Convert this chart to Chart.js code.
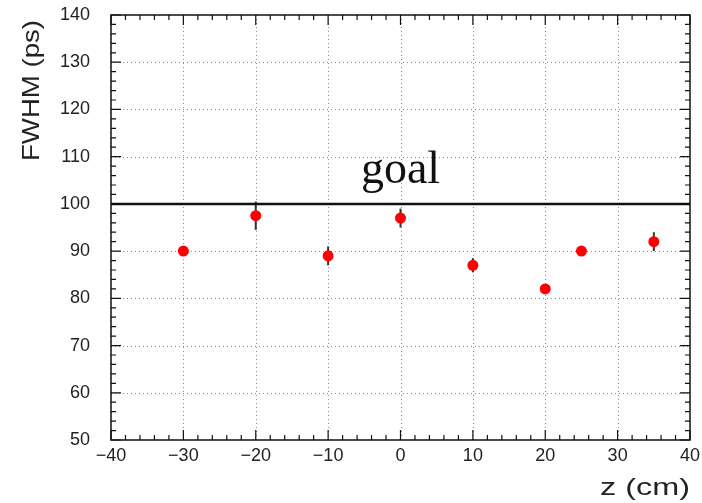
<!DOCTYPE html>
<html>
<head>
<meta charset="utf-8">
<script src="https://cdn.jsdelivr.net/npm/chart.js@4.4.0/dist/chart.umd.min.js"></script>
<style>
  html, body { margin: 0; padding: 0; background: #fff; }
  #wrap { width: 702px; height: 503px; }
</style>
</head>
<body>
<div id="wrap"><canvas id="fwhm" width="702" height="503"></canvas></div>
<script>
// measured FWHM along the bar
const zPos   = [-30, -20, -10, 0, 10, 20, 25, 35];
const fwhm   = [90, 97.5, 89, 97, 87, 82, 90, 92];
const fwhmEr = [1, 3, 2, 2, 1.5, 1, 1, 2];

const goalValue = 100;
const goalText = 'goal';

const xTicks = [-40, -30, -20, -10, 0, 10, 20, 30, 40];
const yTicks = [50, 60, 70, 80, 90, 100, 110, 120, 130, 140];

const points = zPos.map((z, i) => ({ x: z, y: fwhm[i], err: fwhmEr[i] }));

// ROOT-ish frame: dotted grid, ticks on all four sides, error bars, labels
const rootStyle = {
    id: 'rootStyle',
    beforeDatasetsDraw(chart) {
        const { ctx, chartArea: a, scales: { x, y } } = chart;
        ctx.save();
        ctx.strokeStyle = '#8a8a8a';
        ctx.lineWidth = 1;
        ctx.setLineDash([1, 3]);
        xTicks.slice(1, -1).forEach(v => {
            const px = Math.round(x.getPixelForValue(v)) + 0.5;
            ctx.beginPath(); ctx.moveTo(px, a.top); ctx.lineTo(px, a.bottom); ctx.stroke();
        });
        yTicks.slice(1, -1).forEach(v => {
            const py = Math.round(y.getPixelForValue(v)) + 0.5;
            ctx.beginPath(); ctx.moveTo(a.left, py); ctx.lineTo(a.right, py); ctx.stroke();
        });
        ctx.setLineDash([]);

        // error bars
        ctx.strokeStyle = '#333';
        ctx.lineWidth = 2;
        points.forEach(p => {
            const px = x.getPixelForValue(p.x);
            ctx.beginPath();
            ctx.moveTo(px, y.getPixelForValue(p.y - p.err));
            ctx.lineTo(px, y.getPixelForValue(p.y + p.err));
            ctx.stroke();
        });
        ctx.restore();
    },
    afterDraw(chart) {
        const { ctx, chartArea: a, scales: { x, y } } = chart;
        ctx.save();
        ctx.strokeStyle = '#111';
        ctx.lineWidth = 1.5;
        ctx.strokeRect(a.left, a.top, a.right - a.left, a.bottom - a.top);

        ctx.lineWidth = 1.2;
        for (let v = -40; v <= 40; v += 2) {
            const px = x.getPixelForValue(v);
            const len = v % 10 === 0 ? 10 : 5;
            ctx.beginPath();
            ctx.moveTo(px, a.bottom); ctx.lineTo(px, a.bottom - len);
            ctx.moveTo(px, a.top); ctx.lineTo(px, a.top + len);
            ctx.stroke();
        }
        for (let v = 50; v <= 140; v += 2) {
            const py = y.getPixelForValue(v);
            const len = v % 10 === 0 ? 10 : 5;
            ctx.beginPath();
            ctx.moveTo(a.left, py); ctx.lineTo(a.left + len, py);
            ctx.moveTo(a.right, py); ctx.lineTo(a.right - len, py);
            ctx.stroke();
        }

        // goal label
        ctx.fillStyle = '#111';
        ctx.font = '46px "Liberation Serif", "DejaVu Serif", serif';
        ctx.textAlign = 'center';
        ctx.textBaseline = 'alphabetic';
        ctx.fillText(goalText, x.getPixelForValue(0), y.getPixelForValue(104.4));

        // axis titles, right aligned at the axis ends like ROOT does
        ctx.fillStyle = '#222';
        ctx.font = '24px "Liberation Sans", Arial, sans-serif';
        ctx.textAlign = 'right';
        ctx.textBaseline = 'alphabetic';
        ctx.save();
        ctx.translate(a.right, 495);
        ctx.scale(1.35, 1);
        ctx.fillText('z (cm)', 0, 0);
        ctx.restore();

        ctx.save();
        ctx.translate(39, 20);
        ctx.rotate(-Math.PI / 2);
        ctx.scale(1.15, 1);
        ctx.fillText('FWHM (ps)', 0, 0);
        ctx.restore();
        ctx.restore();
    }
};

const ctx = document.getElementById('fwhm').getContext('2d');
new Chart(ctx, {
    type: 'scatter',
    data: {
        datasets: [
            {
                label: 'goal',
                type: 'line',
                data: [{ x: -40, y: goalValue }, { x: 40, y: goalValue }],
                borderColor: '#111',
                borderWidth: 2.5,
                pointRadius: 0,
                fill: false
            },
            {
                label: 'FWHM',
                data: points,
                backgroundColor: '#ff0000',
                borderColor: '#ff0000',
                pointRadius: 5.5,
                pointBorderWidth: 0
            }
        ]
    },
    options: {
        responsive: false,
        animation: false,
        devicePixelRatio: 1,
        layout: { padding: { left: 0, right: 12, top: 15, bottom: 0 } },
        plugins: {
            legend: { display: false },
            tooltip: { enabled: false }
        },
        scales: {
            x: {
                type: 'linear',
                min: -40,
                max: 40,
                afterBuildTicks: (s) => { s.ticks = xTicks.map(v => ({ value: v })); },
                afterFit: (s) => { s.height = 63; s.paddingLeft = 0; s.paddingRight = 0; },
                grid: { display: false, drawTicks: false },
                border: { display: false },
                ticks: {
                    padding: 5,
                    color: '#222',
                    font: { family: '"Liberation Sans", Arial, sans-serif', size: 18 },
                    callback: (v) => String(v).replace('-', '\u2212')
                }
            },
            y: {
                type: 'linear',
                min: 50,
                max: 140,
                afterBuildTicks: (s) => { s.ticks = yTicks.map(v => ({ value: v })); },
                afterFit: (s) => { s.width = 111; s.paddingTop = 0; s.paddingBottom = 0; },
                grid: { display: false, drawTicks: false },
                border: { display: false },
                ticks: {
                    padding: 21,
                    color: '#222',
                    font: { family: '"Liberation Sans", Arial, sans-serif', size: 18 }
                }
            }
        }
    },
    plugins: [rootStyle]
});
</script>
</body>
</html>
